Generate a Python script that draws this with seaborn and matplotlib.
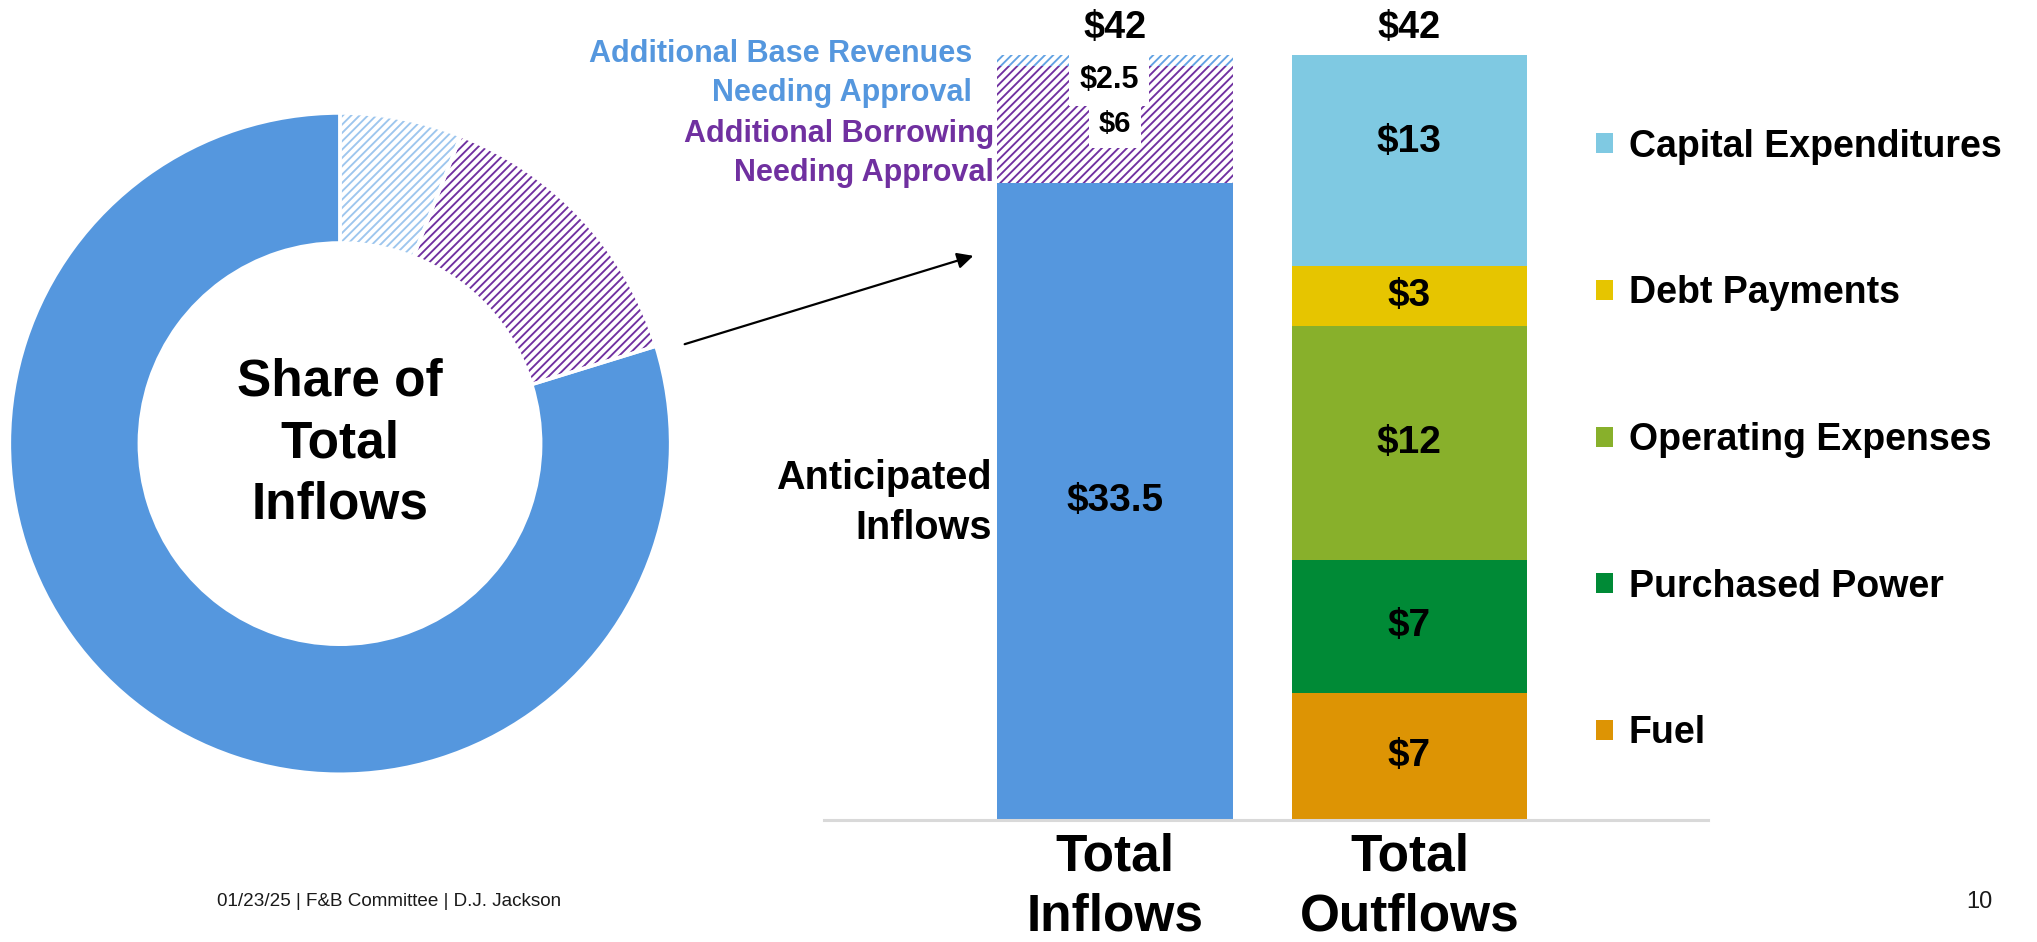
"""
    Share of total inflows (donut) next to stacked inflow / outflow bars.
"""

import numpy as np
import pandas as pd
import matplotlib
matplotlib.use("Agg")
import matplotlib.pyplot as plt
import matplotlib.patches as mpatches
from matplotlib import font_manager
import seaborn as sns

# Data
flows = ["Total\nInflows", "Total\nOutflows"]

inflow_names = ["Anticipated Inflows",
                "Additional Borrowing Needing Approval",
                "Additional Base Revenues Needing Approval"]
inflow_values = [33.5, 6, 2.5]           # amounts used by the donut
inflow_bar_heights = [35.0, 6.4, 0.6]    # segment heights as drawn in the bar
inflow_labels = ["$33.5", "$6", "$2.5"]

outflow_names = ["Fuel", "Purchased Power", "Operating Expenses",
                 "Debt Payments", "Capital Expenditures"]
outflow_bar_heights = [7.0, 7.3, 12.8, 3.3, 11.6]
outflow_labels = ["$7", "$7", "$12", "$3", "$13"]

total_labels = ["$42", "$42"]

# Colours
BLUE = "#5597DE"
PURPLE = "#7030A0"
LIGHT_HATCH_BAR = "#62A2E3"
LIGHT_HATCH_DONUT = "#9DC6EE"
SEGMENT_STYLE = {
    "Anticipated Inflows": dict(facecolor=BLUE, edgecolor=BLUE),
    "Additional Borrowing Needing Approval": dict(facecolor="white", edgecolor=PURPLE, hatch="////"),
    "Additional Base Revenues Needing Approval": dict(facecolor="white", edgecolor=LIGHT_HATCH_BAR, hatch="////"),
    "Fuel": dict(facecolor="#DD9404", edgecolor="#DD9404"),
    "Purchased Power": dict(facecolor="#008A36", edgecolor="#008A36"),
    "Operating Expenses": dict(facecolor="#88B02B", edgecolor="#88B02B"),
    "Debt Payments": dict(facecolor="#E6C500", edgecolor="#E6C500"),
    "Capital Expenditures": dict(facecolor="#7FC9E2", edgecolor="#7FC9E2"),
}
# the $13 label sits a little above the middle of its block on the slide
LABEL_NUDGE = {"Capital Expenditures": 1.05}

sns.set_theme(style="white")
plt.rcParams["font.family"] = ["Liberation Sans", "DejaVu Sans"]
plt.rcParams["hatch.linewidth"] = 1.35
plt.rcParams["text.color"] = "black"


def has_font(name):
    try:
        font_manager.findfont(font_manager.FontProperties(family=name), fallback_to_default=False)
        return True
    except ValueError:
        return False


HAS_NARROW = has_font("Liberation Sans Narrow")
NARROW = ["Liberation Sans Narrow", "DejaVu Sans"] if HAS_NARROW else ["Liberation Sans", "DejaVu Sans"]
NARROW_SCALE = 1.0 if HAS_NARROW else 0.88

W, H = 2037, 942
fig = plt.figure(figsize=(W / 100, H / 100), dpi=100)

# ---------------- stacked bars ----------------
rows = []
for flow, names, heights, labels in [(flows[0], inflow_names, inflow_bar_heights, inflow_labels),
                                     (flows[1], outflow_names, outflow_bar_heights, outflow_labels)]:
    tops = np.cumsum(heights)
    for name, h, t, lab in zip(names, heights, tops, labels):
        rows.append(dict(flow=flow, segment=name, height=h, top=t, bottom=t - h, label=lab))
bars = pd.DataFrame(rows)

ax = fig.add_axes([824 / W, 1 - 820 / H, 884 / W, 765 / H])

# seaborn stacking idiom: draw cumulative tops from tallest to shortest
for _, row in bars.sort_values("top", ascending=False).iterrows():
    sns.barplot(x=[row["flow"]], y=[row["top"]], order=flows, width=0.8,
                errorbar=None, linewidth=0, ax=ax, **SEGMENT_STYLE[row["segment"]])

ax.set_xlim(-0.988, 2.014)
ax.set_ylim(0, 42)
ax.set_yticks([])
ax.set_xlabel("")
ax.set_ylabel("")
for side in ["left", "top", "right"]:
    ax.spines[side].set_visible(False)
ax.spines["bottom"].set_color("#D9D9D9")
ax.spines["bottom"].set_linewidth(2.2)
ax.set_xticks(range(len(flows)))
ax.set_xticklabels(flows, family=NARROW, fontweight="bold", fontsize=42 * NARROW_SCALE,
                   linespacing=1.3 if not HAS_NARROW else 1.1, color="black")
ax.tick_params(axis="x", length=0, pad=9)

# segment value labels
for _, row in bars.iterrows():
    hatched = "hatch" in SEGMENT_STYLE[row["segment"]]
    box = dict(boxstyle="square,pad=0.35", facecolor="white", edgecolor="none") if hatched else None
    x = flows.index(row["flow"])
    if row["height"] < 2:
        ax.text(x - 0.02, row["top"] - 0.55, row["label"], ha="center", va="top", fontsize=22,
                fontweight="bold", color="black", bbox=box, clip_on=False)
    else:
        y = row["bottom"] + row["height"] / 2 + LABEL_NUDGE.get(row["segment"], 0)
        ax.text(x, y, row["label"], ha="center", va="center",
                fontsize=21 if hatched else 28, fontweight="bold", color="black", bbox=box)

for i, lab in enumerate(total_labels):
    total = bars.loc[bars["flow"] == flows[i], "top"].max()
    ax.text(i, total + 1.5, lab, ha="center", va="center", family=NARROW,
            fontsize=31 * NARROW_SCALE, fontweight="bold", color="black", clip_on=False)

# category call-outs to the left of the inflow bar
ax.text(-0.486, 41.0, "Additional Base Revenues\nNeeding Approval", ha="right", va="center",
        fontsize=22, fontweight="bold", color=BLUE, linespacing=1.38, clip_on=False)
ax.text(-0.411, 36.6, "Additional Borrowing\nNeeding Approval", ha="right", va="center",
        fontsize=22, fontweight="bold", color=PURPLE, linespacing=1.38, clip_on=False)
ax.text(-0.418, 17.4, "Anticipated\nInflows", ha="right", va="center",
        fontsize=28.5, fontweight="bold", color="black", linespacing=1.38)

# legend (top to bottom as stacked)
handles = [mpatches.Patch(facecolor=SEGMENT_STYLE[n]["facecolor"], edgecolor="none", label=n)
           for n in outflow_names[::-1]]
fig.legend(handles=handles, loc="center left", bbox_to_anchor=(1596 / W, 1 - 440 / H),
           frameon=False, prop=dict(weight="bold", size=27), labelcolor="black",
           handlelength=0.45, handleheight=0.45, handletextpad=0.42,
           labelspacing=2.95, borderpad=0, borderaxespad=0)

# ---------------- donut ----------------
ax_d = fig.add_axes([9.4 / W, 1 - 774.2 / H, 661.2 / W, 661.2 / H])
donut_values = inflow_values[::-1]
wedges, _ = ax_d.pie(donut_values, startangle=90, counterclock=False, radius=1,
                     wedgeprops=dict(width=0.393, linewidth=0))
wedges[0].set_facecolor("white")
wedges[0].set_edgecolor(LIGHT_HATCH_DONUT)
wedges[0].set_hatch("////")
wedges[1].set_facecolor("white")
wedges[1].set_edgecolor(PURPLE)
wedges[1].set_hatch("////")
wedges[2].set_facecolor(BLUE)
# thin white separators between slices
ax_d.pie(donut_values, startangle=90, counterclock=False, radius=1,
         wedgeprops=dict(width=0.393, facecolor="none", edgecolor="white", linewidth=2.5))
ax_d.set_xlim(-1, 1)
ax_d.set_ylim(-1, 1)
ax_d.set_aspect("equal")
ax_d.axis("off")
ax_d.text(0, 0, "Share of\nTotal\nInflows", ha="center", va="center", fontsize=37,
          fontweight="bold", color="black", linespacing=1.33)

# arrow from donut to bar
ax.annotate("", xy=(976 / W, 1 - 255 / H), xytext=(682 / W, 1 - 345 / H),
            xycoords="figure fraction", textcoords="figure fraction",
            arrowprops=dict(arrowstyle="-|>", color="black", lw=1.6, mutation_scale=24))

# footer
fig.text(217 / W, 1 - 902 / H, "01/23/25 | F&B Committee | D.J. Jackson", ha="left", va="center",
         family=NARROW, fontsize=16 if HAS_NARROW else 13.6, color="#1A1A1A")
fig.text(1979 / W, 1 - 902 / H, "10", ha="center", va="center", fontsize=17, color="#1A1A1A")

fig.savefig("out.png", dpi=100)
